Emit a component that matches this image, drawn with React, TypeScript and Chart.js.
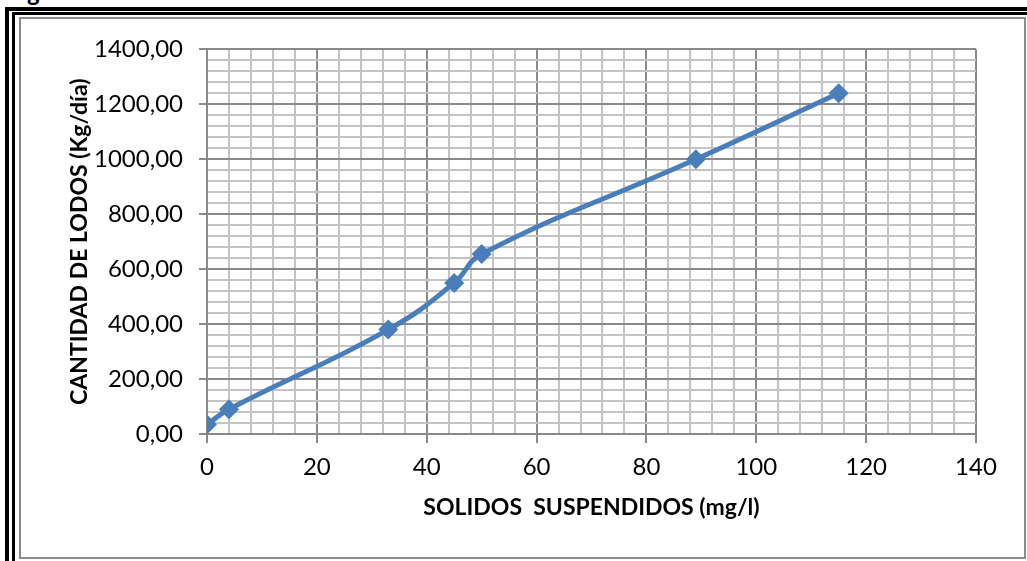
import React, { useEffect, useRef } from "react";
import { Chart, registerables } from "chart.js";

Chart.register(...registerables);

// Suspended solids (mg/l) vs. sludge quantity (kg/day)
const solidosSuspendidos = [0, 4, 33, 45, 50, 89, 115];
const cantidadLodos = [35, 90, 380, 550, 655, 1000, 1240];

const xMin = 0;
const xMax = 140;
const xMinorStep = 4;
const xMajorStep = 20;
const yMin = 0;
const yMax = 1400;
const yMinorStep = 40;
const yMajorStep = 200;

const xTitle = "SOLIDOS  SUSPENDIDOS (mg/l)";
const yTitle = "CANTIDAD DE LODOS (Kg/día)";

const MAJOR = "#8a8a8a";
const MINOR = "#c4c4c4";
const SERIES = "#4a7ebb";
const FONT = "Lato, 'Open Sans', sans-serif";

const fmtY = (v: number) => v.toFixed(2).replace(".", ",");

export default function App() {
  const ref = useRef<HTMLCanvasElement>(null);

  useEffect(() => {
    if (!ref.current) return;
    const chart = new Chart(ref.current, {
      type: "line",
      data: {
        datasets: [
          {
            data: solidosSuspendidos.map((x, i) => ({ x, y: cantidadLodos[i] })),
            borderColor: SERIES,
            backgroundColor: SERIES,
            borderWidth: 5,
            tension: 0.45,
            pointStyle: "rectRot",
            pointRadius: 10,
            pointBorderWidth: 0,
            pointBackgroundColor: SERIES,
            fill: false,
          },
        ],
      },
      options: {
        animation: false,
        responsive: false,
        maintainAspectRatio: false,
        events: [],
        layout: { padding: { left: 45, top: 29, right: 48, bottom: 36 } },
        plugins: { legend: { display: false }, tooltip: { enabled: false } },
        scales: {
          x: {
            type: "linear",
            min: xMin,
            max: xMax,
            afterFit: (s: any) => {
              s.height = 87;
            },
            ticks: {
              stepSize: xMinorStep,
              autoSkip: false,
              maxRotation: 0,
              padding: 10,
              color: "#000",
              font: { family: FONT, size: 24 },
              callback: (v: any) => (Number(v) % xMajorStep === 0 ? String(v) : ""),
            },
            grid: {
              color: (c: any) => (c.tick && c.tick.value % xMajorStep === 0 ? MAJOR : MINOR),
              lineWidth: 2,
              tickLength: 9,
              tickWidth: 2,
              tickColor: (c: any) =>
                c.tick && c.tick.value % xMajorStep === 0 ? MAJOR : "rgba(0,0,0,0)",
            },
            border: { display: true, color: MAJOR, width: 2 },
            title: {
              display: true,
              text: xTitle,
              color: "#000",
              padding: 0,
              font: { family: FONT, size: 23, weight: "bold" },
            },
          },
          y: {
            type: "linear",
            min: yMin,
            max: yMax,
            afterFit: (s: any) => {
              s.width = 141;
            },
            ticks: {
              stepSize: yMinorStep,
              autoSkip: false,
              padding: 16,
              color: "#000",
              font: { family: FONT, size: 24 },
              callback: (v: any) => (Number(v) % yMajorStep === 0 ? fmtY(Number(v)) : ""),
            },
            grid: {
              color: (c: any) => (c.tick && c.tick.value % yMajorStep === 0 ? MAJOR : MINOR),
              lineWidth: 2,
              tickLength: 8,
              tickWidth: 2,
              tickColor: (c: any) =>
                c.tick && c.tick.value % yMajorStep === 0 ? MAJOR : "rgba(0,0,0,0)",
            },
            border: { display: true, color: MAJOR, width: 2 },
            title: {
              display: true,
              text: yTitle,
              color: "#000",
              padding: 0,
              font: { family: FONT, size: 23, weight: "bold" },
            },
          },
        },
      },
    });
    return () => chart.destroy();
  }, []);

  return (
    <div
      style={{
        position: "absolute",
        left: 0,
        top: 0,
        width: 1027,
        height: 561,
        overflow: "hidden",
        background: "#fff",
      }}
    >
      {/* caption text running above the frame */}
      <div
        style={{
          position: "absolute",
          left: 27,
          top: -20,
          font: `bold 24px ${FONT}`,
          lineHeight: "24px",
          color: "#000",
        }}
      >
        g
      </div>
      {/* double black page border, top and left */}
      <div style={{ position: "absolute", left: 5, top: 7, width: 1022, height: 4, background: "#000" }} />
      <div style={{ position: "absolute", left: 5, top: 7, width: 4, height: 554, background: "#000" }} />
      <div style={{ position: "absolute", left: 12, top: 12, width: 1015, height: 3, background: "#000" }} />
      <div style={{ position: "absolute", left: 12, top: 12, width: 3, height: 549, background: "#000" }} />
      {/* chart frame */}
      <div
        style={{
          position: "absolute",
          left: 19,
          top: 17,
          width: 1003,
          height: 538,
          border: "2px solid #8c8c8c",
          background: "#fff",
        }}
      />
      <canvas
        ref={ref}
        width={1003}
        height={538}
        style={{ position: "absolute", left: 21, top: 19, width: 1003, height: 538 }}
      />
    </div>
  );
}
